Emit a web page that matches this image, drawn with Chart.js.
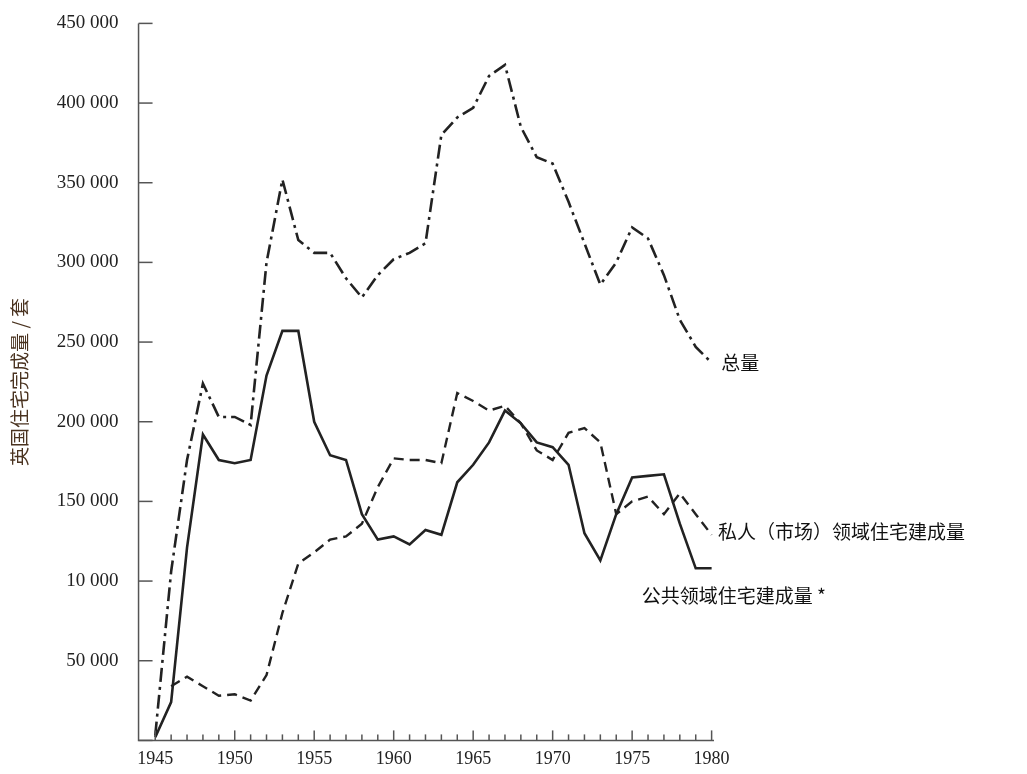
<!DOCTYPE html>
<html><head><meta charset="utf-8">
<script src="https://cdn.jsdelivr.net/npm/chart.js@4"></script>
<style>html,body{margin:0;background:#fff}#w{width:1027px;height:774px}</style>
</head><body><div id="w"><canvas id="c"></canvas></div>
<script>
const years=[1945,1946,1947,1948,1949,1950,1951,1952,1953,1954,1955,1956,1957,1958,1959,1960,1961,1962,1963,1964,1965,1966,1967,1968,1969,1970,1971,1972,1973,1974,1975,1976,1977,1978,1979,1980];
const total=[3000,106000,176000,224000,203000,203000,198000,300000,352000,314000,306000,306000,290000,278000,292000,302000,306000,312000,380000,391000,397000,417000,424000,385000,366000,362000,338000,312000,286000,300000,322000,315000,292000,264000,247000,237000];
const privateS=[null,34000,40000,34000,28000,29000,25000,41000,80000,111000,118000,126000,128000,136000,159000,177000,176000,176000,174000,218000,213000,207000,210000,199000,182000,176000,193000,196000,187000,142000,150000,153000,142000,155000,142000,129000];
const publicS=[2000,24000,121000,192000,176000,174000,176000,229000,257000,257000,200000,179000,176000,142000,126000,128000,123000,132000,129000,162000,173000,187000,207000,199000,187000,184000,173000,130000,113000,142000,165000,166000,167000,136000,108000,108000];
const yTicks=[0,50000,100000,150000,200000,250000,300000,350000,400000,450000];
const yLabels=["","50 000","10 000","150 000","200 000","250 000","300 000","350 000","400 000","450 000"];
const xLabelYears=[1945,1950,1955,1960,1965,1970,1975,1980];
const notes=[{text:"总量",x:1980.6,y:237000},{text:"私人（市场）领域住宅建成量",x:1980.4,y:131000},{text:"公共领域住宅建成量 *",x:1975.6,y:91000}];
const pts=(a)=>years.map((y,i)=>({x:y,y:a[i]})).filter(p=>p.y!==null);
const ink='#222';
const inward={id:'inward',afterDraw(ch){const c=ch.ctx,xs=ch.scales.x,ys=ch.scales.y,a=ch.chartArea;c.save();c.strokeStyle='#555';c.lineWidth=1.5;
 c.beginPath();c.moveTo(a.left,a.top);c.lineTo(a.left,a.bottom);c.lineTo(a.right,a.bottom);c.stroke();
 yTicks.forEach(v=>{const p=ys.getPixelForValue(v);c.beginPath();c.moveTo(a.left,p);c.lineTo(a.left+14,p);c.stroke();});
 years.forEach(v=>{const p=xs.getPixelForValue(v);const l=v%5===0?10:6;c.beginPath();c.moveTo(p,a.bottom);c.lineTo(p,a.bottom-l);c.stroke();});
 c.fillStyle='#111';c.font='19px "Noto Sans CJK SC"';c.textBaseline='middle';
 notes.forEach(n=>c.fillText(n.text,xs.getPixelForValue(n.x),ys.getPixelForValue(n.y)));
 c.restore();}};
new Chart(document.getElementById('c'),{type:'line',
data:{datasets:[
{data:pts(total),borderColor:ink,borderWidth:2.6,borderDash:[14,5,3,5],pointRadius:0,tension:0},
{data:pts(privateS),borderColor:ink,borderWidth:2.4,borderDash:[10,6],pointRadius:0,tension:0},
{data:pts(publicS),borderColor:ink,borderWidth:2.6,pointRadius:0,tension:0}]},
options:{animation:false,responsive:true,maintainAspectRatio:false,
layout:{padding:{top:-2,right:313,bottom:4,left:4}},
plugins:{legend:{display:false},tooltip:{enabled:false}},
scales:{
x:{type:'linear',min:1943.95,max:1980.15,border:{display:false},grid:{display:false},
 afterBuildTicks:s=>{s.ticks=xLabelYears.map(v=>({value:v}));},
 ticks:{color:'#222',font:{family:'Liberation Serif',size:18},padding:0,maxRotation:0,callback:v=>String(v)}},
y:{min:0,max:450000,border:{display:false},grid:{display:false},
 afterBuildTicks:s=>{s.ticks=yTicks.map(v=>({value:v}));},
 ticks:{color:'#222',font:{family:'Liberation Serif',size:19},padding:12,callback:(v)=>yLabels[yTicks.indexOf(v)]},
 title:{display:true,text:'英国住宅完成量 / 套',color:'#4a3320',font:{family:'Noto Sans CJK SC',size:19},padding:{bottom:14}}}}},
plugins:[inward]});
</script></body></html>
